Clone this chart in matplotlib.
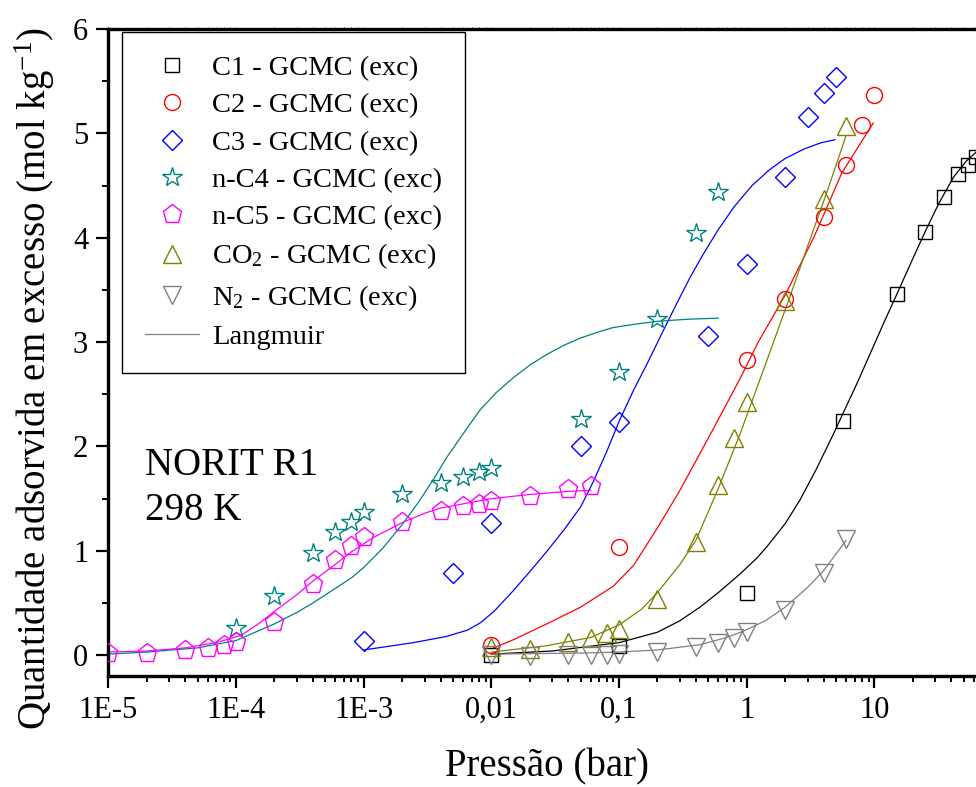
import matplotlib
matplotlib.use("Agg")
import matplotlib.pyplot as plt
from matplotlib.lines import Line2D

plt.rcParams['font.family'] = ['Liberation Serif', 'DejaVu Serif']
plt.rcParams['mathtext.fontset'] = 'custom'
plt.rcParams['mathtext.rm'] = 'Liberation Serif'
plt.rcParams['mathtext.it'] = 'Liberation Serif:italic'

# ---- GCMC excess adsorption (pressure in bar, q in mol/kg) ----
c1_p = [0.01, 0.1, 1, 5.7, 15, 25, 35, 45, 54, 62]
c1_q = [0.00, 0.09, 0.60, 2.24, 3.46, 4.06, 4.39, 4.61, 4.70, 4.77]

c2_p = [0.01, 0.1, 1, 2, 4, 6, 8, 10]
c2_q = [0.10, 1.04, 2.83, 3.41, 4.20, 4.70, 5.08, 5.37]

c3_p = [1e-3, 5e-3, 0.01, 0.05, 0.1, 0.5, 1, 2, 3, 4, 5]
c3_q = [0.14, 0.79, 1.27, 2.00, 2.23, 3.06, 3.75, 4.58, 5.16, 5.39, 5.54]

nc4_p = [1e-4, 2e-4, 4e-4, 6e-4, 8e-4, 1e-3, 2e-3, 4e-3, 6e-3, 8e-3, 0.01,
         0.05, 0.1, 0.2, 0.4, 0.6]
nc4_q = [0.26, 0.57, 0.98, 1.18, 1.28, 1.37, 1.54, 1.65, 1.71, 1.76, 1.79,
         2.26, 2.71, 3.22, 4.05, 4.44]

nc5_p = [1e-5, 2e-5, 4e-5, 6e-5, 8e-5, 1e-4, 2e-4, 4e-4, 6e-4, 8e-4, 1e-3,
         2e-3, 4e-3, 6e-3, 8e-3, 0.01, 0.02, 0.04, 0.06]
nc5_q = [0.02, 0.02, 0.05, 0.07, 0.10, 0.13, 0.32, 0.68, 0.91, 1.05, 1.13,
         1.28, 1.38, 1.43, 1.45, 1.48, 1.53, 1.59, 1.62]

co2_p = [0.01, 0.02, 0.04, 0.06, 0.08, 0.1, 0.2, 0.4, 0.6, 0.8, 1, 2, 4, 6]
co2_q = [0.08, 0.06, 0.13, 0.16, 0.21, 0.25, 0.54, 1.08, 1.63, 2.08, 2.43,
         3.39, 4.37, 5.07]

n2_p = [0.01, 0.02, 0.04, 0.06, 0.08, 0.1, 0.2, 0.4, 0.6, 0.8, 1, 2, 4, 6]
n2_q = [0.00, -0.01, 0.00, 0.00, 0.00, 0.01, 0.03, 0.08, 0.12, 0.16, 0.22,
        0.43, 0.79, 1.11]

# ---- Langmuir fits ----
c1_fit_p = [0.01, 0.03, 0.1, 0.2, 0.3, 0.43, 0.6, 0.89, 1.2, 1.44, 2.0, 2.62,
            3.5, 4.78, 6.0, 7.28, 8.97, 12, 15, 20, 25, 32, 41.6, 52, 62.5, 80, 100]
c1_fit_q = [0.01, 0.04, 0.12, 0.22, 0.33, 0.46, 0.60, 0.78, 0.93, 1.04, 1.26,
            1.49, 1.78, 2.12, 2.38, 2.60, 2.85, 3.20, 3.46, 3.80, 4.06, 4.33,
            4.58, 4.73, 4.82, 4.94, 5.03]

c2_fit_p = [0.01, 0.015, 0.0272, 0.05, 0.09, 0.13, 0.2, 0.3, 0.548, 0.887,
            1.23, 2.0, 3.4, 5.55, 9.8]
c2_fit_q = [0.06, 0.15, 0.30, 0.46, 0.66, 0.86, 1.22, 1.58, 2.17, 2.65,
            3.00, 3.45, 4.02, 4.62, 5.10]

c3_fit_p = [1e-3, 2.45e-3, 4.47e-3, 6.5e-3, 8.2e-3, 0.0105, 0.0149, 0.02,
            0.027, 0.037, 0.05, 0.0627, 0.08, 0.1, 0.13, 0.167, 0.22, 0.283,
            0.36, 0.45, 0.6, 0.8, 1.1, 1.5, 2.0, 2.8, 3.8, 4.92]
c3_fit_q = [0.05, 0.12, 0.18, 0.24, 0.31, 0.42, 0.62, 0.80, 0.99, 1.20, 1.42,
            1.66, 1.95, 2.24, 2.54, 2.80, 3.10, 3.37, 3.62, 3.83, 4.08, 4.30,
            4.50, 4.65, 4.76, 4.85, 4.91, 4.94]

nc4_fit_p = [1e-5, 2e-5, 5e-5, 1e-4, 2e-4, 3e-4, 4e-4, 6e-4, 8e-4, 1e-3,
             1.4e-3, 2e-3, 2.7e-3, 3.5e-3, 4.5e-3, 6e-3, 8.15e-3, 0.011,
             0.0149, 0.02, 0.027, 0.037, 0.05, 0.07, 0.09, 0.13, 0.2, 0.35, 0.6]
nc4_fit_q = [0.01, 0.03, 0.07, 0.14, 0.30, 0.41, 0.50, 0.64, 0.74, 0.84,
             1.02, 1.25, 1.47, 1.68, 1.90, 2.12, 2.35, 2.52,
             2.66, 2.78, 2.88, 2.97, 3.04, 3.10, 3.14, 3.17, 3.20, 3.22, 3.23]

nc5_fit_p = [1e-5, 2e-5, 4e-5, 7e-5, 1.1e-4, 1.5e-4, 2e-4, 3e-4, 4e-4, 6e-4,
             8e-4, 1.2e-3, 2e-3, 3e-3, 4e-3, 6e-3, 0.01, 0.02, 0.04, 0.06]
nc5_fit_q = [0.03, 0.04, 0.07, 0.12, 0.19, 0.30, 0.42, 0.58, 0.71, 0.87,
             0.99, 1.13, 1.27, 1.36, 1.41, 1.45, 1.50, 1.54, 1.57, 1.58]

co2_fit_p = [0.01, 0.027, 0.06, 0.1, 0.15, 0.2, 0.3, 0.4, 0.6, 0.887, 1.2,
             1.6, 2.2, 3.0, 4.2, 6]
co2_fit_q = [0.03, 0.09, 0.17, 0.29, 0.44, 0.60, 0.87, 1.10, 1.60, 2.12, 2.56,
             2.98, 3.45, 3.92, 4.42, 4.98]

n2_fit_p = [0.01, 0.05, 0.1, 0.2, 0.43, 0.7, 0.94, 1.4, 2, 3, 4, 6]
n2_fit_q = [0.01, 0.02, 0.03, 0.05, 0.10, 0.17, 0.23, 0.33, 0.46, 0.65, 0.81, 1.10]

series = [
    ("C1 - GCMC (exc)", c1_p, c1_q, c1_fit_p, c1_fit_q, 'black', 's', 10),
    ("C2 - GCMC (exc)", c2_p, c2_q, c2_fit_p, c2_fit_q, '#ff0000', 'o', 11.5),
    ("C3 - GCMC (exc)", c3_p, c3_q, c3_fit_p, c3_fit_q, '#0000ff', 'D', 10),
    ("n-C4 - GCMC (exc)", nc4_p, nc4_q, nc4_fit_p, nc4_fit_q, '#008080', '*', 15),
    ("n-C5 - GCMC (exc)", nc5_p, nc5_q, nc5_fit_p, nc5_fit_q, '#ff00ff', 'p', 14),
    ("CO$_2$ - GCMC (exc)", co2_p, co2_q, co2_fit_p, co2_fit_q, '#808000', '^', 13),
    ("N$_2$ - GCMC (exc)", n2_p, n2_q, n2_fit_p, n2_fit_q, '#808080', 'v', 13),
]

fig = plt.figure(figsize=(9.76, 7.87), dpi=100)
ax = fig.add_axes([0.111, 0.141, 0.9157, 0.822])

handles = []
for label, p, q, fp, fq, col, mk, ms in series:
    ax.plot(fp, fq, '-', color=col, lw=0.9, zorder=2)
    h, = ax.plot(p, q, linestyle='none', marker=mk, ms=ms, mfc='none',
                 mec=col, mew=1.0, zorder=3, label=label)
    handles.append(h)
handles.append(Line2D([], [], color='#808080', lw=0.9, label='Langmuir'))

ax.set_xscale('log')
ax.set_xlim(1e-5, 100)
ax.set_ylim(-0.2, 6)

xt = [1e-5, 1e-4, 1e-3, 1e-2, 1e-1, 1, 10]
xt_labels = ['1E-5', '1E-4', '1E-3', '0,01', '0,1', '1', '10']
ax.set_xticks(xt)
ax.set_xticklabels(xt_labels)
ax.set_yticks([0, 1, 2, 3, 4, 5, 6])
ax.set_yticklabels(['0', '1', '2', '3', '4', '5', '6'])
ax.yaxis.set_minor_locator(matplotlib.ticker.MultipleLocator(0.5))
ax.xaxis.set_minor_locator(matplotlib.ticker.LogLocator(base=10, subs=range(2, 10), numticks=20))
ax.xaxis.set_minor_formatter(matplotlib.ticker.NullFormatter())

ax.tick_params(axis='both', which='major', direction='out', length=8.5, width=1.6,
               labelsize=22, pad=6, colors='black')
ax.tick_params(axis='both', which='minor', direction='out', length=4.5, width=1.4)
ax.tick_params(axis='x', which='both', top=True, labeltop=False)
for t in ax.xaxis.get_major_ticks() + ax.xaxis.get_minor_ticks():
    t.tick2line.set_markersize(1.5)
    t.tick2line.set_markeredgewidth(0.6)
    t.tick2line.set_color('#777777')

for s in ['left', 'bottom', 'top']:
    ax.spines[s].set_linewidth(2.4)
ax.spines['right'].set_visible(False)

ax.set_xlabel('Pressão (bar)', fontsize=28, va='top')
ax.xaxis.set_label_coords(0.491, -0.112)
ax.set_ylabel('Quantidade adsorvida em excesso (mol kg$^{-1}$)', fontsize=28)
ax.yaxis.set_label_coords(-0.058, 0.46)

ax.text(0.041, 0.311, 'NORIT R1', transform=ax.transAxes, fontsize=28,
        va='baseline', ha='left')
ax.text(0.041, 0.241, '298 K', transform=ax.transAxes, fontsize=28,
        va='baseline', ha='left')

leg = ax.legend(handles=handles, loc='upper left', bbox_to_anchor=(0.0155, 0.995),
                fontsize=20.5, numpoints=1, handlelength=1.9, handletextpad=0.46,
                labelspacing=0.40, borderpad=0.8, fancybox=False, framealpha=1,
                edgecolor='black', borderaxespad=0)
leg.get_frame().set_linewidth(1.0)

fig.savefig('out.png', dpi=100)
